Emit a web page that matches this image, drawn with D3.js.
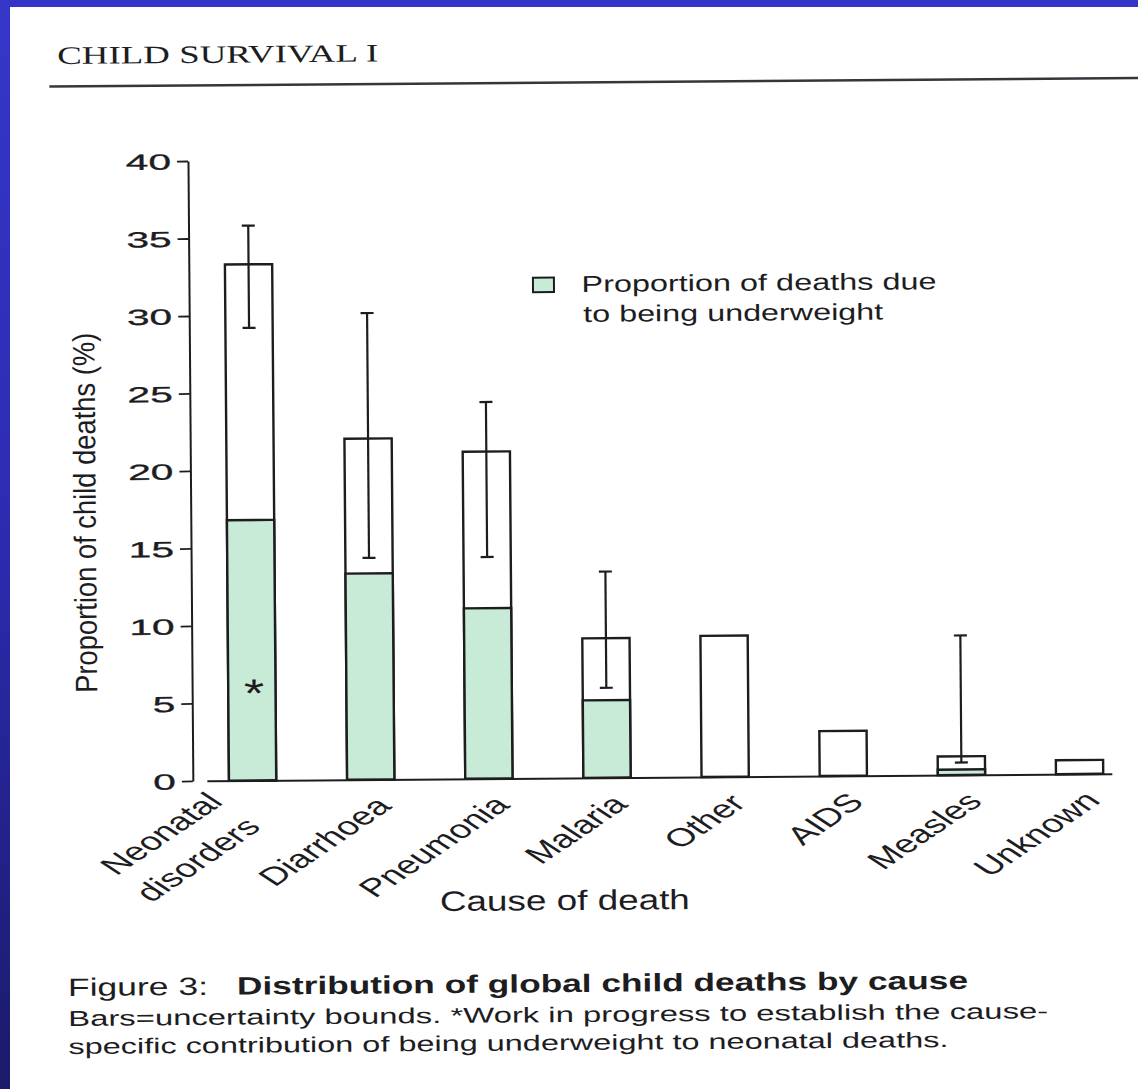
<!DOCTYPE html>
<html>
<head>
<meta charset="utf-8">
<script src="https://cdn.jsdelivr.net/npm/d3@7"></script>
<style>
  html, body { margin: 0; padding: 0; background: #ffffff; }
  svg { display: block; }
</style>
</head>
<body>
<svg id="chart" width="1138" height="1089"></svg>
<script>
// ---- data -------------------------------------------------------------
const categories = ["Neonatal disorders", "Diarrhoea", "Pneumonia", "Malaria", "Other", "AIDS", "Measles", "Unknown"];
const categoryLines = [["Neonatal", "disorders"], ["Diarrhoea"], ["Pneumonia"], ["Malaria"], ["Other"], ["AIDS"], ["Measles"], ["Unknown"]];
// share of all child deaths (%)
const totalShare = [33.3, 22.0, 21.1, 9.0, 9.1, 2.9, 1.2, 0.9];
// part of each share attributable to being underweight (%)
const underweightShare = [16.8, 13.3, 11.0, 5.0, null, null, 0.35, null];
// uncertainty bounds (%)
const lowerBound = [29.2, 14.3, 14.3, 5.8, null, null, 0.8, null];
const upperBound = [35.8, 30.1, 24.3, 13.3, null, null, 9.0, null];
const yTicks = [0, 5, 10, 15, 20, 25, 30, 35, 40];
const noteCategory = "Neonatal disorders";
const noteValue = 6.1;
const noteMark = "*";

const runningHead = "CHILD SURVIVAL I";
const yTitle = "Proportion of child deaths (%)";
const xTitle = "Cause of death";
const legendLines = ["Proportion of deaths due", "to being underweight"];
const figureLabel = "Figure 3:";
const figureTitle = "Distribution of global child deaths by cause";
const captionLines = [
  "Bars=uncertainty bounds. *Work in progress to establish the cause-",
  "specific contribution of being underweight to neonatal deaths."
];

// ---- styles -----------------------------------------------------------
const W = 1138, H = 1089;
const INK = "#1d1d1f";
const GREEN = "#c7ebd6";
const SANS = "'Liberation Sans', Arial, Helvetica, sans-serif";
const SERIF = "'Liberation Serif', 'Times New Roman', serif";
const SX = 1.3;      // horizontal stretch of the printed lettering
const LABEL_SX = 1.5; // stretch of the slanted category names

const rows = categories.map((c, i) => ({
  c, lines: categoryLines[i],
  total: totalShare[i], uw: underweightShare[i],
  lo: lowerBound[i], hi: upperBound[i]
}));

const svg = d3.select("#chart");
svg.append("rect").attr("width", W).attr("height", H).attr("fill", "#ffffff");

const defs = svg.append("defs");
const fade = defs.append("linearGradient").attr("id", "frameFade")
  .attr("x1", 0).attr("y1", 0).attr("x2", 0).attr("y2", 1);
fade.append("stop").attr("offset", "0%").attr("stop-color", "#3636c9");
fade.append("stop").attr("offset", "50%").attr("stop-color", "#2c2bb0");
fade.append("stop").attr("offset", "100%").attr("stop-color", "#1b1a6a");

// the printed page sits slightly askew
const page = svg.append("g").attr("transform", "rotate(-0.45,569,544)");

// running head and rule
page.append("text")
  .attr("x", 61).attr("y", 60)
  .attr("font-family", SERIF).attr("font-size", 25).attr("fill", INK)
  .attr("textLength", 321).attr("lengthAdjust", "spacingAndGlyphs")
  .text(runningHead);
page.append("line")
  .attr("x1", 53).attr("x2", 1160).attr("y1", 82.5).attr("y2", 82.5)
  .attr("stroke", "#33373c").attr("stroke-width", 2.5);

// ---- scales -----------------------------------------------------------
const y = d3.scaleLinear().domain([0, 40]).range([778, 158]);
const x = d3.scaleBand().domain(categories).range([205, 1110])
  .paddingInner(0.6).paddingOuter(0.13).align(0.72);
const cx = c => x(c) + x.bandwidth() / 2;

// ---- axes -------------------------------------------------------------
const gy = page.append("g").attr("transform", "translate(191,0)")
  .call(d3.axisLeft(y).tickValues(yTicks).tickSize(11).tickSizeOuter(0).tickPadding(6));
gy.select(".domain").attr("stroke", INK).attr("stroke-width", 2);
gy.selectAll(".tick line").attr("stroke", INK).attr("stroke-width", 1.8);
gy.selectAll(".tick text")
  .attr("font-family", SANS).attr("font-size", 22).attr("fill", INK)
  .attr("stroke", INK).attr("stroke-width", 0.3)
  .attr("x", 0).attr("dy", "0.36em")
  .attr("transform", "translate(-17,0) scale(1.85,1)");

const gx = page.append("g").attr("transform", `translate(0,${y(0)})`)
  .call(d3.axisBottom(x).tickSize(0).tickSizeOuter(0).tickFormat(""));
gx.selectAll(".tick").remove();
gx.select(".domain").attr("stroke", INK).attr("stroke-width", 2);

// ---- bars -------------------------------------------------------------
const bars = page.append("g");
bars.selectAll("rect.total").data(rows).join("rect")
  .attr("class", "total")
  .attr("x", d => x(d.c)).attr("width", x.bandwidth())
  .attr("y", d => y(d.total)).attr("height", d => y(0) - y(d.total))
  .attr("fill", "#ffffff").attr("stroke", INK).attr("stroke-width", 2.4);
bars.selectAll("rect.uw").data(rows.filter(d => d.uw != null)).join("rect")
  .attr("class", "uw")
  .attr("x", d => x(d.c)).attr("width", x.bandwidth())
  .attr("y", d => y(d.uw)).attr("height", d => y(0) - y(d.uw))
  .attr("fill", GREEN).attr("stroke", INK).attr("stroke-width", 2.4);

// uncertainty bounds
const err = page.append("g").attr("stroke", INK).attr("stroke-width", 2.2);
const withBounds = rows.filter(d => d.lo != null);
err.selectAll("line.stem").data(withBounds).join("line")
  .attr("class", "stem")
  .attr("x1", d => cx(d.c)).attr("x2", d => cx(d.c))
  .attr("y1", d => y(d.lo)).attr("y2", d => y(d.hi));
err.selectAll("line.capHi").data(withBounds).join("line")
  .attr("class", "capHi")
  .attr("x1", d => cx(d.c) - 6.5).attr("x2", d => cx(d.c) + 6.5)
  .attr("y1", d => y(d.hi)).attr("y2", d => y(d.hi));
err.selectAll("line.capLo").data(withBounds).join("line")
  .attr("class", "capLo")
  .attr("x1", d => cx(d.c) - 6.5).attr("x2", d => cx(d.c) + 6.5)
  .attr("y1", d => y(d.lo)).attr("y2", d => y(d.lo));

// note mark inside the neonatal bar
page.append("text")
  .attr("transform", `translate(${cx(noteCategory) + 2},${y(noteValue)}) scale(${SX},1)`)
  .attr("text-anchor", "middle").attr("dy", 21)
  .attr("font-family", SANS).attr("font-size", 40).attr("fill", INK)
  .text(noteMark);

// ---- category labels ---------------------------------------------------
const LAB = 25.5;
const labels = page.append("g")
  .attr("font-family", SANS).attr("font-size", LAB).attr("fill", INK);
rows.forEach(d => {
  const n = d.lines.length;
  const lh = n > 1 ? 1.4 * LAB : 0;
  const shift = n > 1 ? -20 : 0;
  const drop = n > 1 ? 8 : 0;
  const t = labels.append("text").attr("text-anchor", "end")
    .attr("transform", `translate(${cx(d.c) + 22},${y(0) + 28}) scale(${LABEL_SX},1) rotate(-45)`);
  d.lines.forEach((ln, j) => {
    t.append("tspan").attr("x", shift).attr("y", (j - (n - 1)) * lh + drop).text(ln);
  });
});

// axis titles
page.append("text")
  .attr("transform", "translate(96,509) rotate(-90)")
  .attr("text-anchor", "middle")
  .attr("font-family", SANS).attr("font-size", 31).attr("fill", INK)
  .attr("textLength", 360).attr("lengthAdjust", "spacingAndGlyphs")
  .text(yTitle);
page.append("text")
  .attr("x", 437).attr("y", 910)
  .attr("font-family", SANS).attr("font-size", 28).attr("fill", INK)
  .attr("textLength", 250).attr("lengthAdjust", "spacingAndGlyphs")
  .text(xTitle);

// ---- legend -----------------------------------------------------------
const legend = page.append("g");
legend.append("rect")
  .attr("x", 535).attr("y", 277.5).attr("width", 21).attr("height", 14.5)
  .attr("fill", GREEN).attr("stroke", INK).attr("stroke-width", 2);
const legendText = legend.append("g")
  .attr("font-family", SANS).attr("font-size", 23).attr("fill", INK);
legendText.append("text").attr("x", 583.5).attr("y", 292)
  .attr("textLength", 355).attr("lengthAdjust", "spacingAndGlyphs").text(legendLines[0]);
legendText.append("text").attr("x", 585).attr("y", 322)
  .attr("textLength", 300).attr("lengthAdjust", "spacingAndGlyphs").text(legendLines[1]);

// ---- caption ----------------------------------------------------------
const cap = page.append("g").attr("font-family", SANS).attr("fill", INK);
cap.append("text").attr("x", 64.5).attr("y", 992).attr("font-size", 25)
  .attr("textLength", 140).attr("lengthAdjust", "spacingAndGlyphs").text(figureLabel);
cap.append("text").attr("x", 233.5).attr("y", 992).attr("font-size", 25).attr("font-weight", "bold")
  .attr("textLength", 731).attr("lengthAdjust", "spacingAndGlyphs").text(figureTitle);
cap.append("text").attr("x", 64.5).attr("y", 1022).attr("font-size", 21.5)
  .attr("textLength", 980).attr("lengthAdjust", "spacingAndGlyphs").text(captionLines[0]);
cap.append("text").attr("x", 64.5).attr("y", 1050).attr("font-size", 21.5)
  .attr("textLength", 880).attr("lengthAdjust", "spacingAndGlyphs").text(captionLines[1]);

// ---- slide frame ------------------------------------------------------
svg.append("rect").attr("x", 0).attr("y", 0).attr("width", 10).attr("height", H).attr("fill", "url(#frameFade)");
svg.append("rect").attr("x", 0).attr("y", 0).attr("width", W).attr("height", 7).attr("fill", "#3535c9");
</script>
</body>
</html>
